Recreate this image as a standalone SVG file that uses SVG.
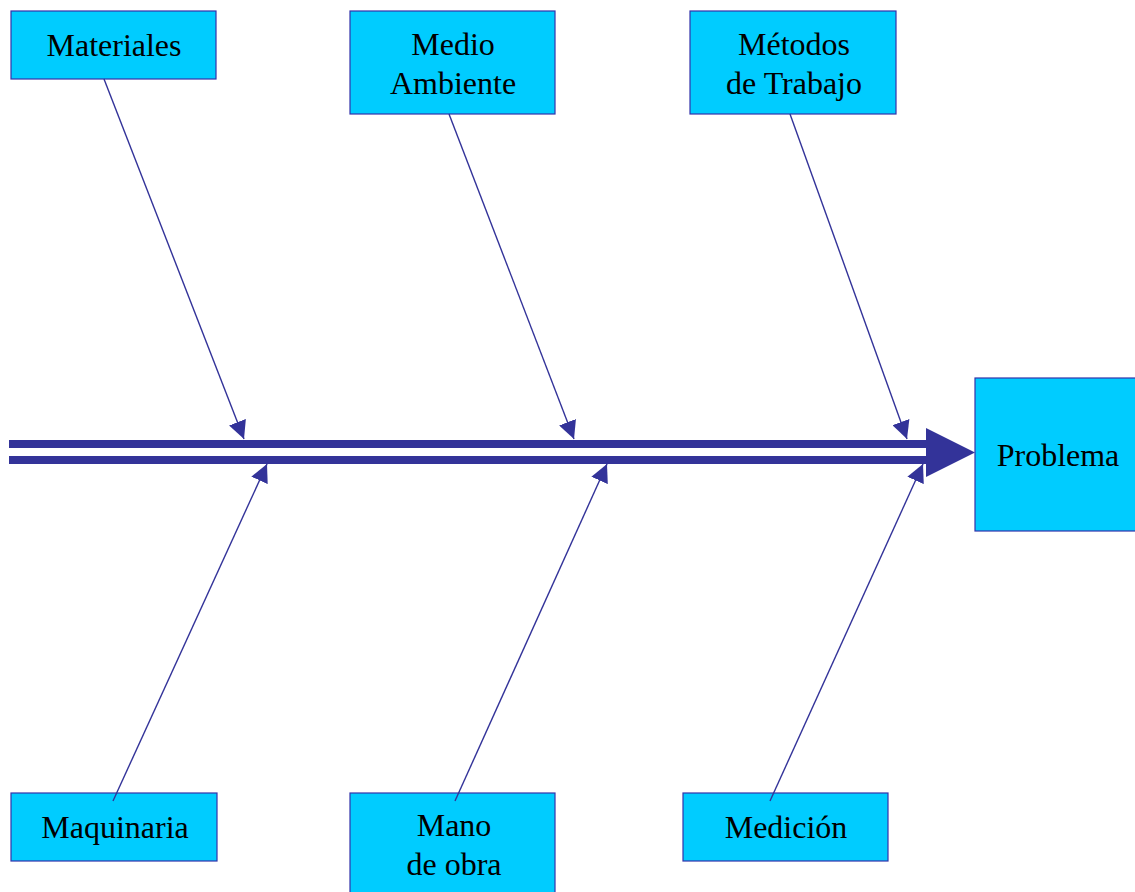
<svg xmlns="http://www.w3.org/2000/svg" width="1135" height="892" viewBox="0 0 1135 892">
<style>
.box{fill:#00CCFF;stroke:#3333AA;stroke-width:1.2}
.t{font-family:"Liberation Serif","Times New Roman",serif;font-size:32px;fill:#000;text-anchor:middle}
.br{stroke:#333399;stroke-width:1.4;fill:none}
.bar{fill:#333399}
</style>
<defs>
<marker id="ah" viewBox="0 0 10 10" refX="10" refY="5" markerUnits="userSpaceOnUse" markerWidth="18" markerHeight="18" orient="auto">
<path d="M0,0 L10,5 L0,10 z" fill="#333399"/>
</marker>
</defs>
<rect width="1135" height="892" fill="#fff"/>
<g id="materiales"><rect class="box" x="11" y="11" width="205" height="68"/><text class="t" x="114" y="56">Materiales</text></g>
<g id="medio-ambiente"><rect class="box" x="350" y="11" width="205" height="103"/><text class="t" x="453" y="55">Medio</text><text class="t" x="453" y="94">Ambiente</text></g>
<g id="metodos"><rect class="box" x="690" y="11" width="206" height="103"/><text class="t" x="794" y="55">Métodos</text><text class="t" x="794" y="94">de Trabajo</text></g>
<g id="problema"><rect class="box" x="975" y="378" width="162" height="153"/><text class="t" x="1058" y="466">Problema</text></g>
<g id="maquinaria"><rect class="box" x="11" y="793" width="206" height="68"/><text class="t" x="115" y="838">Maquinaria</text></g>
<g id="mano-de-obra"><rect class="box" x="350" y="793" width="205" height="103"/><text class="t" x="454" y="836">Mano</text><text class="t" x="454" y="875">de obra</text></g>
<g id="medicion"><rect class="box" x="683" y="793" width="205" height="68"/><text class="t" x="786" y="838">Medición</text></g>
<g id="connectors">
<rect class="bar" x="9" y="440" width="920" height="8"/>
<rect class="bar" x="9" y="456" width="920" height="8"/>
<path class="bar" d="M926,428 L975,452.5 L926,477 z"/>
<line class="br" x1="104" y1="79" x2="244" y2="439" marker-end="url(#ah)"/>
<line class="br" x1="449" y1="114" x2="574" y2="439" marker-end="url(#ah)"/>
<line class="br" x1="790" y1="114" x2="907" y2="439" marker-end="url(#ah)"/>
<line class="br" x1="113" y1="801" x2="267" y2="464" marker-end="url(#ah)"/>
<line class="br" x1="455" y1="801" x2="607" y2="464" marker-end="url(#ah)"/>
<line class="br" x1="770" y1="801" x2="923" y2="464" marker-end="url(#ah)"/>
</g>
</svg>
